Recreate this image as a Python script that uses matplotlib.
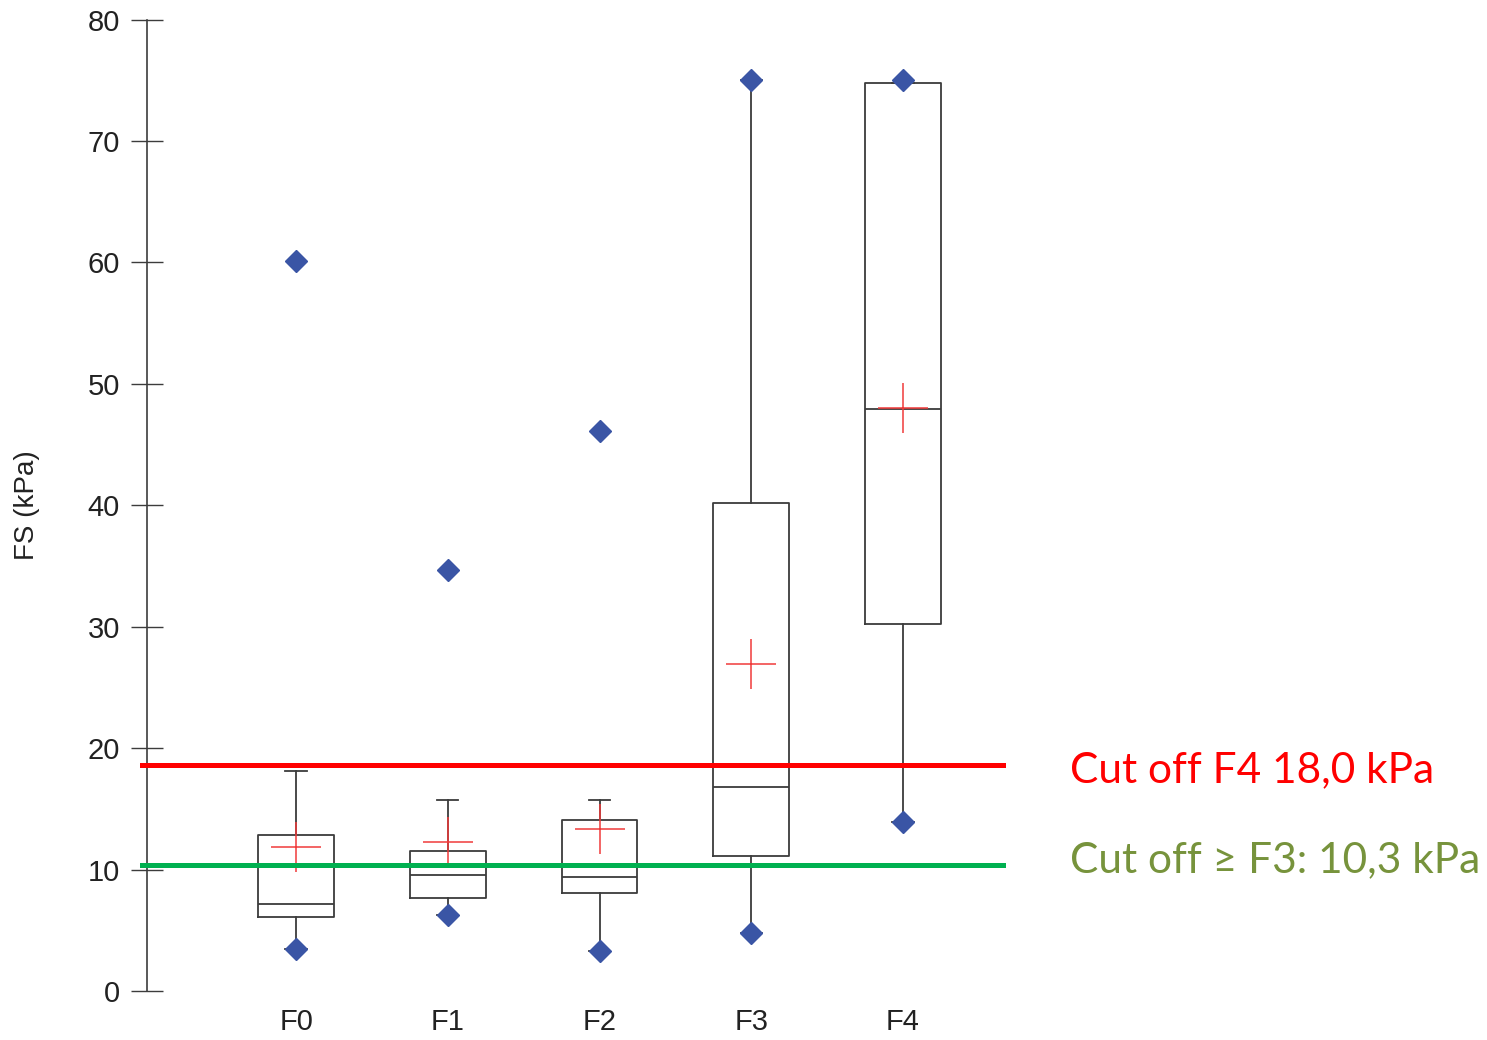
import matplotlib
matplotlib.use("Agg")
import matplotlib.pyplot as plt

# values (kPa)
stadien = ["F0", "F1", "F2", "F3", "F4"]
q1 = [6.1, 7.7, 8.05, 11.15, 30.2]
median = [7.2, 9.55, 9.4, 16.8, 47.9]
q3 = [12.85, 11.5, 14.1, 40.2, 74.8]
whisk_lo = [3.5, 6.3, 3.3, 4.8, 13.9]
whisk_hi = [18.1, 15.7, 15.7, 75.0, 74.8]
mittel = [11.9, 12.25, 13.35, 26.9, 48.0]
minimum = [3.5, 6.3, 3.3, 4.8, 13.9]
maximum = [60.1, 34.7, 46.1, 75.0, 75.0]

cut_f4 = 18.6
cut_f3 = 10.4
label_f4 = "Cut off F4 18,0 kPa"
label_f3 = "Cut off \u2265 F3: 10,3 kPa"

plt.rcParams["font.family"] = ["Liberation Sans", "DejaVu Sans"]

stats = []
for i in range(len(stadien)):
    stats.append({
        "label": stadien[i],
        "q1": q1[i], "med": median[i], "q3": q3[i],
        "whislo": whisk_lo[i], "whishi": whisk_hi[i],
        "mean": mittel[i],
        "fliers": [minimum[i], maximum[i]],
    })

fig = plt.figure(figsize=(14.87, 10.4), dpi=100)
ax = fig.add_axes([0.0989, 0.0471, 0.5757, 0.934])

grau = "#3c3c3c"
pos = list(range(1, len(stadien) + 1))
ax.bxp(stats, positions=pos, widths=0.5, showmeans=True, showfliers=True,
       boxprops=dict(color=grau, linewidth=1.3),
       medianprops=dict(color=grau, linewidth=1.3),
       whiskerprops=dict(color=grau, linewidth=1.3),
       capprops=dict(color=grau, linewidth=1.3),
       capwidths=0.14,
       meanprops=dict(marker="+", markersize=36, markeredgecolor="#f03a3a",
                      markeredgewidth=1.1, linestyle="none"),
       flierprops=dict(marker="D", markersize=11, markerfacecolor="#3a55a5",
                       markeredgecolor="#3a55a5", linestyle="none"))

# cut-off lines
ax.plot([-0.015, 5.66], [cut_f4, cut_f4], color="#ff0000", lw=3.6, clip_on=False, zorder=5)
ax.plot([-0.015, 5.66], [cut_f3, cut_f3], color="#00b050", lw=3.6, clip_on=False, zorder=5)
ax.text(6.1, cut_f4 - 0.4, label_f4, color="#ff0000", fontsize=30.5, family="Lato",
        va="center", ha="left", clip_on=False)
ax.text(6.1, cut_f3 + 0.35, label_f3, color="#77933c", fontsize=30.5, family="Lato",
        va="center", ha="left", clip_on=False)

ax.set_xlim(0.018, 5.66)
ax.set_ylim(0, 80)
ax.set_yticks(range(0, 81, 10))
ax.set_ylabel("FS (kPa)", fontsize=20, labelpad=34, color="#222222")

ax.spines["top"].set_visible(False)
ax.spines["right"].set_visible(False)
ax.spines["bottom"].set_visible(False)
ax.spines["left"].set_linewidth(1.2)
ax.spines["left"].set_color(grau)
ax.tick_params(axis="y", direction="inout", length=23, width=1.0, color=grau,
               labelsize=21, pad=8, labelcolor="#222222")
ax.tick_params(axis="x", length=0, labelsize=21, pad=12, labelcolor="#222222")

fig.savefig("out.png", dpi=100)
